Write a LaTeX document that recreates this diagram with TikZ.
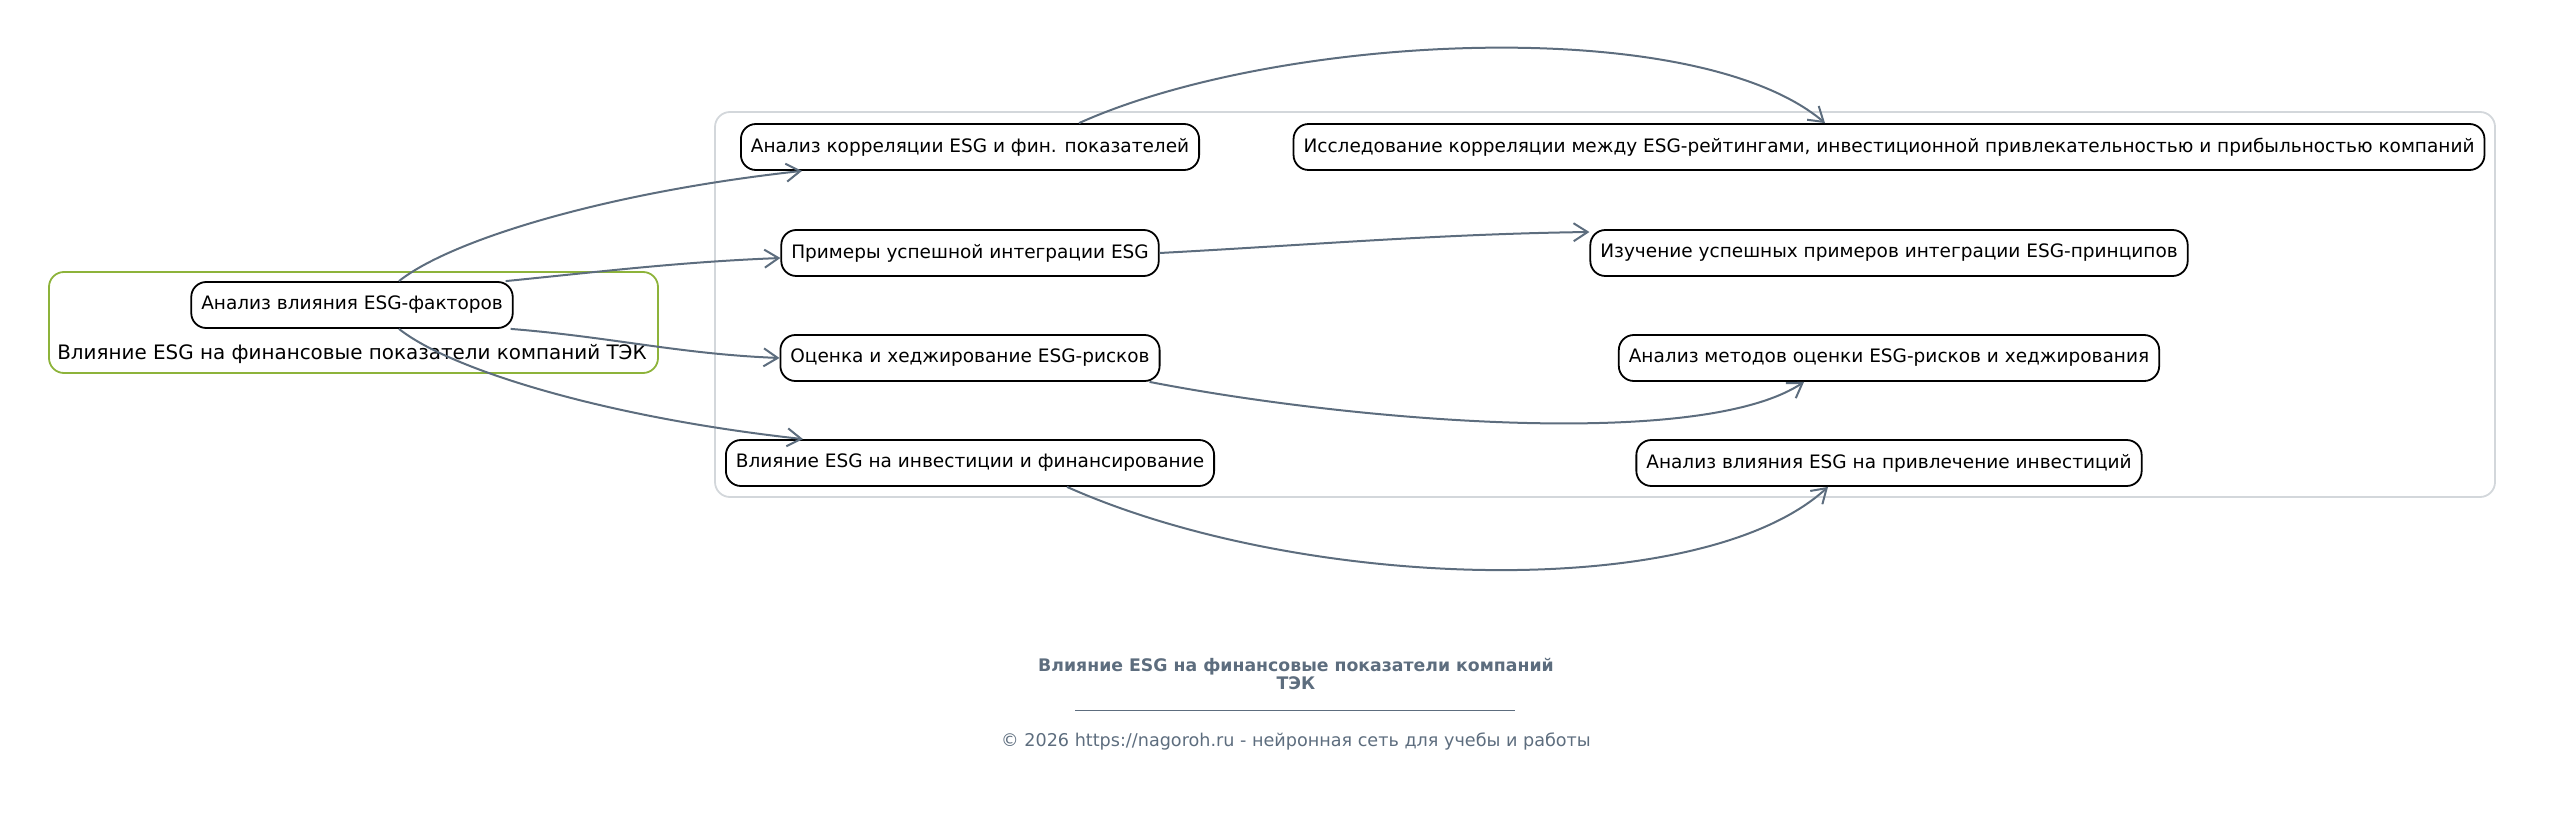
\documentclass[tikz,border=0pt]{standalone}
\usepackage{fontspec}
\setmainfont{DejaVu Sans}
\usetikzlibrary{arrows.meta}
\definecolor{slate}{HTML}{5D6D7E}
\definecolor{leaf}{HTML}{8DB33A}
\definecolor{frame}{HTML}{D3D7DB}

\begin{document}
\begin{tikzpicture}[x=1pt,y=-1pt,
    topic/.style={draw=black,line width=1.8pt,rounded corners=15pt,fill=white,
      minimum height=46pt,inner xsep=10pt,font=\fontsize{18.5}{22}\selectfont},
    link/.style={draw=slate,line width=2pt,-{Straight Barb[length=14pt,width=18pt,line width=2pt]}},
    group/.style={rounded corners=15pt,line width=1.8pt}]
    \useasboundingbox (0,0) rectangle (2555,826);
    \draw[group,draw=frame] (715,112) rectangle (2495,497);
    \draw[group,draw=leaf] (49,272) rectangle (658,373);
    \node[font=\fontsize{19.9}{22}\selectfont] (grp) at (352,354) {Влияние ESG на финансовые показатели компаний ТЭК};
    \node[topic] (root) at (352,305) {Анализ влияния ESG-факторов};
    \node[topic] (corr) at (970,147) {Анализ корреляции ESG и фин. показателей};
    \node[topic] (prim) at (970,253) {Примеры успешной интеграции ESG};
    \node[topic] (risk) at (970,358) {Оценка и хеджирование ESG-рисков};
    \node[topic] (inv) at (970,463) {Влияние ESG на инвестиции и финансирование};
    \node[topic] (corrD) at (1889,147) {Исследование корреляции между ESG-рейтингами, инвестиционной привлекательностью и прибыльностью компаний};
    \node[topic] (primD) at (1889,253) {Изучение успешных примеров интеграции ESG-принципов};
    \node[topic] (riskD) at (1889,358) {Анализ методов оценки ESG-рисков и хеджирования};
    \node[topic] (invD) at (1889,463) {Анализ влияния ESG на привлечение инвестиций};
    \draw[link] ([xshift=47pt]root.north) .. controls +(50,-40) and +(-200,22) .. ([xshift=62pt]corr.south west);
    \draw[link] ([xshift=-8pt]root.north east) .. controls +(100,-10) and +(-100,4) .. ([yshift=-5pt]prim.west);
    \draw[link] ([xshift=-3pt]root.south east) .. controls +(100,8) and +(-100,-4) .. (risk.west);
    \draw[link] ([xshift=47pt]root.south) .. controls +(50,40) and +(-200,-22) .. ([xshift=78pt]inv.north west);
    \draw[link] ([xshift=109pt]corr.north) .. controls +(200,-90) and +(-130,-110) .. ([xshift=-64pt]corrD.north);
    \draw[link] (prim.east) .. controls +(150,-8) and +(-150,2) .. ([yshift=21pt]primD.west);
    \draw[link] ([xshift=-11pt]risk.south east) .. controls +(200,39) and +(-104,69) .. ([xshift=-85pt]riskD.south);
    \draw[link] ([xshift=97pt]inv.south) .. controls +(233,104) and +(-128,117) .. ([xshift=-61pt]invD.south);
    \node[text=slate,font=\bfseries\fontsize{17.3}{18}\selectfont,align=center] (ttl) at (1296,674) {Влияние ESG на финансовые показатели компаний\\ТЭК};
    \coordinate (ruleL) at (1075,710);
    \coordinate (ruleR) at (1515,710);
    \draw[slate,line width=1pt] (ruleL) -- (ruleR);
    \node[text=slate,font=\fontsize{17.6}{18}\selectfont] (copy) at (1296,741) {© 2026 https://nagoroh.ru - нейронная сеть для учебы и работы};
\end{tikzpicture}
\end{document}
